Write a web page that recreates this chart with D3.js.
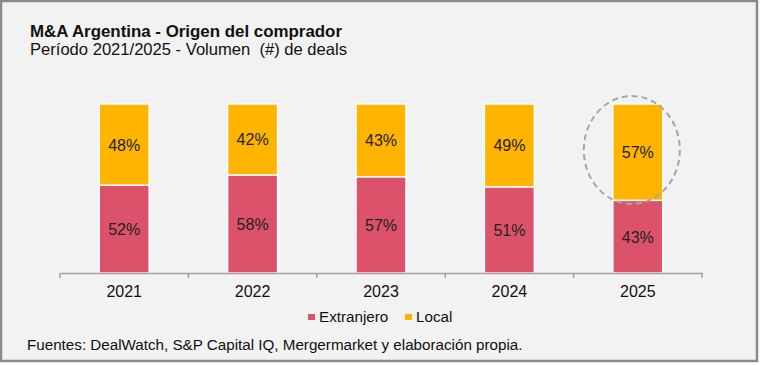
<!DOCTYPE html>
<html><head><meta charset="utf-8">
<script src="https://cdn.jsdelivr.net/npm/d3@7"></script>
<style>body{margin:0;background:#fff;}svg{display:block;font-family:"Liberation Sans",Arial,sans-serif;}text{white-space:pre;}</style>
</head><body>
<svg id="c" width="760" height="365"></svg>
<script>
const years = ["2021","2022","2023","2024","2025"];
const extranjero = [52,58,57,51,43];
const local = [48,42,43,49,57];
const seriesNames = ["Extranjero","Local"];
const colors = ["#db526a","#ffb400"];
const title = "M&A Argentina - Origen del comprador";
const subtitle = "Período 2021/2025 - Volumen  (#) de deals";
const source = "Fuentes: DealWatch, S&P Capital IQ, Mergermarket y elaboración propia.";

const svg = d3.select("#c");
svg.append("rect").attr("x",1).attr("y",1).attr("width",756).attr("height",360)
  .attr("fill","#f2f2f2").attr("stroke","#8a8a8a").attr("stroke-width",2.5);

svg.append("text").attr("x",30).attr("y",37).attr("font-size",16.5).attr("font-weight","bold").attr("fill","#111")
  .attr("textLength",312).attr("lengthAdjust","spacingAndGlyphs").text(title);
svg.append("text").attr("x",30).attr("y",55).attr("font-size",16.5).attr("fill","#111")
  .attr("textLength",317).attr("lengthAdjust","spacingAndGlyphs").text(subtitle);

const x = d3.scaleBand().domain(years).range([60,702]).paddingInner(0).paddingOuter(0);
const y = d3.scaleLinear().domain([0,100]).range([273,104]);
const bw = 50;

const data = years.map((yr,i)=>({year:yr, Extranjero:extranjero[i], Local:local[i]}));
const stack = d3.stack().keys(seriesNames)(data);

const g = svg.append("g");
stack.forEach((s,si)=>{
  g.selectAll(null).data(s).enter().append("rect")
    .attr("x",d=>x(d.data.year)+x.bandwidth()/2-bw/2)
    .attr("width",bw)
    .attr("y",d=>y(d[1]))
    .attr("height",d=>y(d[0])-y(d[1]))
    .attr("fill",colors[si]).attr("stroke","#fff").attr("stroke-width",1.5);
  g.selectAll(null).data(s).enter().append("text")
    .attr("x",d=>x(d.data.year)+x.bandwidth()/2)
    .attr("y",d=>(y(d[0])+y(d[1]))/2+6)
    .attr("text-anchor","middle").attr("font-size",16).attr("fill","#222")
    .text(d=>(d[1]-d[0])+"%");
});

// axis
const axis = d3.axisBottom(x).tickSize(0).tickPadding(13);
const ax = svg.append("g").attr("transform","translate(0,273)").call(axis);
ax.select(".domain").attr("stroke","#a0a0a0").attr("stroke-width",1.5);
ax.selectAll("text").attr("font-size",16).attr("fill","#111").attr("font-family","Liberation Sans, Arial, sans-serif");
// ticks between categories
const tickPos = years.map(d=>x(d)).concat([x(years[years.length-1])+x.bandwidth()]);
svg.selectAll(null).data(tickPos).enter().append("line")
  .attr("x1",d=>d).attr("x2",d=>d).attr("y1",273).attr("y2",278)
  .attr("stroke","#a0a0a0").attr("stroke-width",1.5);

// highlight ellipse
const last = years[years.length-1];
svg.append("ellipse").attr("cx",x(last)+x.bandwidth()/2-6).attr("cy",150)
  .attr("rx",48).attr("ry",54).attr("fill","none").attr("stroke","#a6a6a6")
  .attr("stroke-width",2).attr("stroke-dasharray","6,4");

// legend
const leg = svg.append("g");
const legX = [308,405];
seriesNames.forEach((n,i)=>{
  leg.append("rect").attr("x",legX[i]).attr("y",314).attr("width",7).attr("height",6).attr("fill",colors[i]);
  leg.append("text").attr("x",legX[i]+11).attr("y",322).attr("font-size",15.2).attr("fill","#111").text(n);
});

svg.append("text").attr("x",27).attr("y",350).attr("font-size",15.2).attr("fill","#111").text(source);
</script>
</body></html>
